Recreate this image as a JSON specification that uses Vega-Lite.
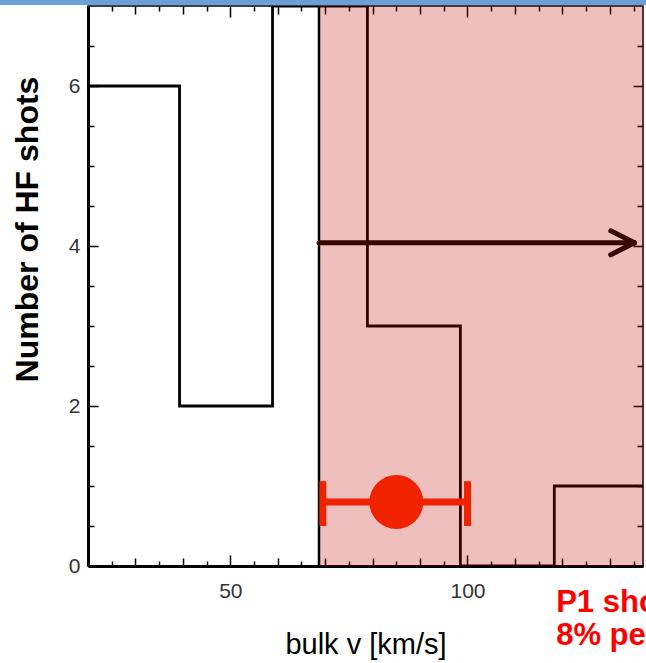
{
  "$schema": "https://vega.github.io/schema/vega-lite/v6.json",
  "autosize": {"type": "none"},
  "width": 555,
  "height": 560,
  "padding": {"left": 88, "top": 6, "right": 3, "bottom": 97},
  "background": "white",
  "config": {
    "view": {"stroke": "black", "strokeWidth": 1.5},
    "axis": {"grid": false, "domain": false, "labels": false, "ticks": false, "title": null, "tickColor": "black", "tickWidth": 1.5},
    "font": "Liberation Sans"
  },
  "datasets": {
    "hist": [
      {"v": 20, "n": 6}, {"v": 39.3, "n": 2}, {"v": 58.9, "n": 7},
      {"v": 78.9, "n": 3}, {"v": 98.5, "n": 0}, {"v": 118.3, "n": 1}, {"v": 137, "n": 1}
    ]
  },
  "resolve": {"axis": {"x": "independent", "y": "independent"}},
  "layer": [
    {
      "data": {"name": "hist"},
      "mark": {"type": "line", "interpolate": "step-after", "color": "black", "strokeWidth": 2.8, "clip": true},
      "encoding": {
        "x": {"field": "v", "type": "quantitative", "scale": {"domain": [20, 137], "nice": false, "zero": false},
          "axis": {"orient": "bottom", "values": [50, 100], "labels": true, "labelFontSize": 21, "labelColor": "#333", "labelPadding": 14,
            "domain": true, "domainColor": "black", "domainWidth": 3,
            "title": "bulk v [km/s]", "titleFontSize": 29, "titleFontWeight": "normal", "titleColor": "black", "titleY": 87, "titleBaseline": "alphabetic"}},
        "y": {"field": "n", "type": "quantitative", "scale": {"domain": [0, 7], "nice": false},
          "axis": {"orient": "left", "values": [0, 2, 4, 6], "labels": true, "labelFontSize": 21, "labelColor": "#333", "labelPadding": 8,
            "domain": true, "domainColor": "black", "domainWidth": 3,
            "title": "Number of HF shots", "titleFontSize": 32, "titleFontWeight": "bold", "titleColor": "black",
            "titleX": -61, "titleY": 223, "titleBaseline": "middle", "titleAngle": -90}}
      }
    },
    {
      "data": {"values": [{"a": 68.7, "b": 140, "lo": 0, "hi": 7}]},
      "mark": {"type": "rect", "color": "#c10900", "opacity": 0.26, "clip": true},
      "encoding": {
        "x": {"field": "a", "type": "quantitative", "axis": {"orient": "bottom", "values": [50, 100], "ticks": true, "tickSize": -11}},
        "x2": {"field": "b"},
        "y": {"field": "lo", "type": "quantitative", "axis": {"orient": "left", "values": [0, 2, 4, 6], "ticks": true, "tickSize": -10}},
        "y2": {"field": "hi"}
      }
    },
    {
      "data": {"values": [{"a": 68.7, "lo": 0, "hi": 7}]},
      "mark": {"type": "rule", "color": "black", "strokeWidth": 2.5},
      "encoding": {
        "x": {"field": "a", "type": "quantitative", "axis": {"orient": "bottom", "values": [30, 40, 60, 70, 80, 90, 110, 120, 130], "ticks": true, "tickSize": -8}},
        "y": {"field": "lo", "type": "quantitative", "axis": {"orient": "left", "values": [0.5, 1, 1.5, 2.5, 3, 3.5, 4.5, 5, 5.5, 6.5], "ticks": true, "tickSize": -6}},
        "y2": {"field": "hi"}
      }
    },
    {
      "data": {"values": [
        {"a": 68.7, "b": 135.2, "p": 4.04, "q": 4.04},
        {"a": 130.2, "b": 135.2, "p": 4.19, "q": 4.04},
        {"a": 130.2, "b": 135.2, "p": 3.89, "q": 4.04}
      ]},
      "mark": {"type": "rule", "color": "#380600", "strokeWidth": 5, "strokeCap": "round"},
      "encoding": {
        "x": {"field": "a", "type": "quantitative", "axis": {"orient": "bottom", "values": [25, 35, 45, 55, 65, 75, 85, 95, 105, 115, 125, 135], "ticks": true, "tickSize": -5}},
        "x2": {"field": "b"},
        "y": {"field": "p", "type": "quantitative", "axis": {"orient": "right", "values": [0, 2, 4, 6], "ticks": true, "tickSize": -10}},
        "y2": {"field": "q"}
      }
    },
    {
      "data": {"values": [
        {"a": 69.5, "b": 100, "p": 0.8, "q": 0.8},
        {"a": 69.5, "b": 69.5, "p": 0.5, "q": 1.06},
        {"a": 100, "b": 100, "p": 0.5, "q": 1.06}
      ]},
      "mark": {"type": "rule", "color": "#f02200", "strokeWidth": 7},
      "encoding": {
        "x": {"field": "a", "type": "quantitative", "axis": {"orient": "top", "values": [50, 100], "ticks": true, "tickSize": -11}},
        "x2": {"field": "b"},
        "y": {"field": "p", "type": "quantitative", "axis": {"orient": "right", "values": [0.5, 1, 1.5, 2.5, 3, 3.5, 4.5, 5, 5.5, 6.5], "ticks": true, "tickSize": -6}},
        "y2": {"field": "q"}
      }
    },
    {
      "data": {"values": [{"a": 85, "p": 0.8}]},
      "mark": {"type": "point", "shape": "circle", "filled": true, "color": "#f02200", "opacity": 1, "size": 2916},
      "encoding": {
        "x": {"field": "a", "type": "quantitative", "axis": {"orient": "top", "values": [30, 40, 60, 70, 80, 90, 110, 120, 130], "ticks": true, "tickSize": -8}},
        "y": {"field": "p", "type": "quantitative", "axis": null}
      }
    },
    {
      "data": {"values": [{"a": 118.7, "p": -0.575, "t": "P1 sho"}, {"a": 118.7, "p": -0.99, "t": "8% pe"}]},
      "mark": {"type": "text", "color": "#ff0000", "font": "Liberation Sans", "fontWeight": "bold", "fontSize": 31, "align": "left", "baseline": "alphabetic", "clip": false},
      "encoding": {
        "x": {"field": "a", "type": "quantitative", "axis": {"orient": "top", "values": [25, 35, 45, 55, 65, 75, 85, 95, 105, 115, 125, 135], "ticks": true, "tickSize": -5}},
        "y": {"field": "p", "type": "quantitative", "axis": null},
        "text": {"field": "t"}
      }
    },
    {
      "data": {"values": [{"a": 0, "b": 200, "p": 7.0125, "q": 7.09}]},
      "mark": {"type": "rect", "color": "#6a9fd8", "clip": false},
      "encoding": {
        "x": {"field": "a", "type": "quantitative", "axis": null},
        "x2": {"field": "b"},
        "y": {"field": "p", "type": "quantitative", "axis": null},
        "y2": {"field": "q"}
      }
    }
  ]
}
